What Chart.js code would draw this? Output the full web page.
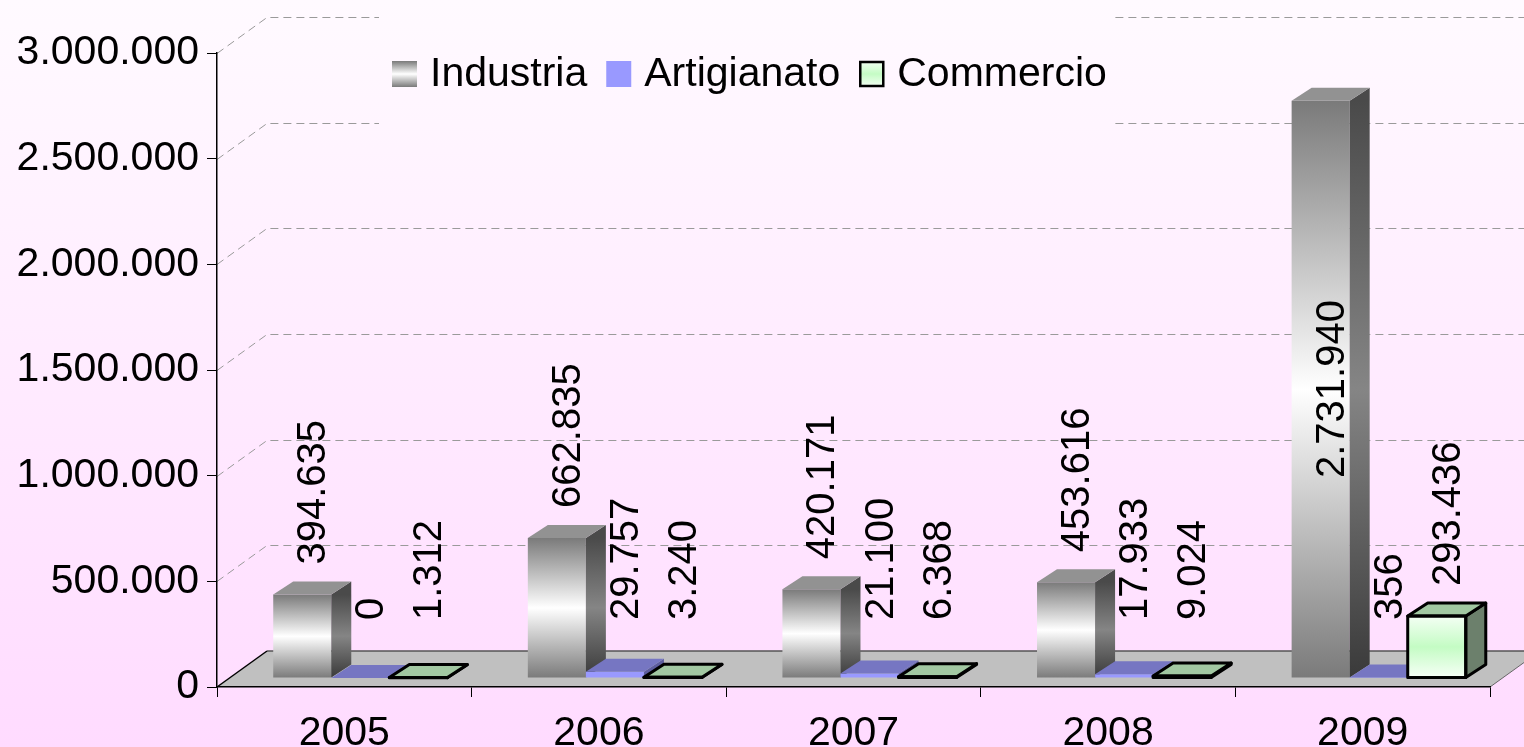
<!DOCTYPE html>
<html><head><meta charset="utf-8">
<script src="https://cdn.jsdelivr.net/npm/chart.js@4.4.1/dist/chart.umd.min.js"></script>
<style>html,body{margin:0;padding:0;overflow:hidden;background:#fff0ff}canvas{display:block}</style>
</head><body>
<canvas id="c" width="1524" height="747"></canvas>
<script>
// ---------------- data ----------------
const categories = ['2005', '2006', '2007', '2008', '2009'];
const seriesNames = ['Industria', 'Artigianato', 'Commercio'];
const industria = [394635, 662835, 420171, 453616, 2731940];
const artigianato = [0, 29757, 21100, 17933, 356];
const commercio = [1312, 3240, 6368, 9024, 293436];
const yTickValues = [0, 500000, 1000000, 1500000, 2000000, 2500000, 3000000];

// ---------------- style ----------------
const FONT = "'Liberation Sans', Arial, Helvetica, sans-serif";
const DEPTH = {x: 20, y: -13};   // bar extrusion
const WALL = {x: 50, y: -36};    // floor / back wall depth
const SHIFT = {x: 16, y: -9};    // bars stand inside the floor

function fmt(v) { return String(v).replace(/\B(?=(\d{3})+(?!\d))/g, '.'); }
function vGrad(ctx, y0, y1, stops) {
  if (!isFinite(y0) || !isFinite(y1) || Math.abs(y1 - y0) < 0.5) return stops[1][1];
  const g = ctx.createLinearGradient(0, y0, 0, y1);
  stops.forEach(s => g.addColorStop(s[0], s[1]));
  return g;
}
const indFront = [[0, '#7a7a7a'], [0.5, '#ffffff'], [1, '#7a7a7a']];
const indSide = [[0, '#4a4a4a'], [0.5, '#858585'], [1, '#3a3a3a']];
const comFront = [[0, '#f4fff4'], [0.5, '#c4fcc4'], [1, '#f7fff7']];

function frontFill(stops) {
  return function (c) {
    const ch = c.chart, ys = ch.scales && ch.scales.y;
    if (!ys || c.raw == null) return stops[1][1];
    const t = ys.getPixelForValue(c.raw), b = ys.getPixelForValue(0);
    return vGrad(ch.ctx, t, b, stops);
  };
}

const faceStyles = [
  {side: (ctx, t, b) => vGrad(ctx, t, b, indSide), top: () => '#929292'},
  {side: () => '#5d5d9e', top: () => '#7676c2'},
  {side: () => '#6c806c', top: () => '#a2c8a2', stroke: '#000', lw: 3}
];

function drawBar3D(ctx, el, st) {
  const p = el.getProps(['x', 'y', 'base', 'width'], true);
  const l = p.x - p.width / 2, r = p.x + p.width / 2;
  const t = Math.min(p.y, p.base), b = Math.max(p.y, p.base);
  el.draw(ctx);
  ctx.lineJoin = 'round';
  ctx.beginPath();
  ctx.moveTo(r, t); ctx.lineTo(r + DEPTH.x, t + DEPTH.y);
  ctx.lineTo(r + DEPTH.x, b + DEPTH.y); ctx.lineTo(r, b); ctx.closePath();
  ctx.fillStyle = st.side(ctx, t, b); ctx.fill();
  if (st.stroke) { ctx.lineWidth = st.lw; ctx.strokeStyle = st.stroke; ctx.stroke(); }
  ctx.beginPath();
  ctx.moveTo(l, t); ctx.lineTo(r, t); ctx.lineTo(r + DEPTH.x, t + DEPTH.y);
  ctx.lineTo(l + DEPTH.x, t + DEPTH.y); ctx.closePath();
  ctx.fillStyle = st.top(ctx, t, b); ctx.fill();
  if (st.stroke) {
    ctx.lineWidth = st.lw; ctx.strokeStyle = st.stroke; ctx.stroke();
    ctx.strokeRect(l, t, r - l, b - t);
  }
}

function bgGrad(ctx, h) { return vGrad(ctx, 0, h, [[0, '#fffaff'], [0.5, '#ffebff'], [1, '#ffdbff']]); }

const scene3d = {
  id: 'scene3d',
  beforeDraw(chart) {
    const ctx = chart.ctx, W = chart.width, H = chart.height;
    const ca = chart.chartArea, ys = chart.scales.y;
    ctx.save();
    ctx.fillStyle = bgGrad(ctx, H);
    ctx.fillRect(0, 0, W, H);
    ctx.setLineDash([8, 5]);
    ctx.strokeStyle = '#9a9a9a'; ctx.lineWidth = 1;
    ys.ticks.forEach(tk => {
      if (tk.value === 0) return;
      const y = Math.round(ys.getPixelForValue(tk.value)) + 0.5;
      ctx.beginPath();
      ctx.moveTo(ca.left, y); ctx.lineTo(ca.left + WALL.x, y + WALL.y); ctx.lineTo(W, y + WALL.y);
      ctx.stroke();
    });
    ctx.setLineDash([]);
    const B = ys.getPixelForValue(0), L = ca.left, R = ca.right;
    ctx.beginPath();
    ctx.moveTo(L, B); ctx.lineTo(R, B); ctx.lineTo(R + WALL.x, B + WALL.y); ctx.lineTo(L + WALL.x, B + WALL.y); ctx.closePath();
    ctx.fillStyle = '#c0c0c0'; ctx.fill();
    ctx.lineWidth = 1.5; ctx.strokeStyle = '#555';
    ctx.beginPath(); ctx.moveTo(L + WALL.x, B + WALL.y); ctx.lineTo(W + 60, B + WALL.y); ctx.stroke();
    ctx.strokeStyle = '#000';
    ctx.beginPath(); ctx.moveTo(L, B); ctx.lineTo(L + WALL.x, B + WALL.y); ctx.stroke();
    ctx.strokeStyle = '#666'; ctx.lineWidth = 1;
    ctx.beginPath(); ctx.moveTo(R, B); ctx.lineTo(R + WALL.x, B + WALL.y); ctx.stroke();
    // legend
    ctx.fillStyle = bgGrad(ctx, H);
    ctx.fillRect(379, 4, 736, 126);
    ctx.font = '41px ' + FONT; ctx.textBaseline = 'middle'; ctx.textAlign = 'left';
    let x = 392; const ym = 74, bw = 25, bh = 26;
    seriesNames.forEach((name, i) => {
      const y0 = ym - bh / 2;
      if (i === 0) ctx.fillStyle = vGrad(ctx, y0, y0 + bh, indFront);
      else if (i === 1) ctx.fillStyle = '#9999ff';
      else ctx.fillStyle = vGrad(ctx, y0, y0 + bh, comFront);
      ctx.fillRect(x, y0, bw, bh);
      if (i === 2) { ctx.lineWidth = 2.5; ctx.strokeStyle = '#000'; ctx.strokeRect(x + 1, y0 + 1, bw - 2, bh - 2); }
      x += bw + 13;
      ctx.fillStyle = '#000';
      ctx.fillText(name, x, ym + 1);
      x += ctx.measureText(name).width + 19;
    });
    ctx.restore();
  },
  beforeDatasetDraw() { return false; },
  afterDatasetsDraw(chart) {
    const ctx = chart.ctx;
    const metas = chart.data.datasets.map((d, i) => chart.getDatasetMeta(i));
    ctx.save();
    ctx.translate(SHIFT.x, SHIFT.y);
    categories.forEach((c, i) => {
      metas.forEach((m, d) => drawBar3D(ctx, m.data[i], faceStyles[d]));
    });
    ctx.restore();
    ctx.save();
    ctx.font = '40px ' + FONT; ctx.fillStyle = '#000';
    ctx.textBaseline = 'middle';
    metas.forEach((m, d) => {
      m.data.forEach((el, i) => {
        const v = chart.data.datasets[d].data[i];
        const txt = fmt(v);
        const len = ctx.measureText(txt).width;
        const p = el.getProps(['x', 'y', 'base'], true);
        const top = Math.min(p.y, p.base) + SHIFT.y;
        const bot = Math.max(p.y, p.base) + SHIFT.y;
        const cx = p.x + SHIFT.x + 12;
        let start = Math.min(top - 30, 620);
        if (start - len < 5) start = (top + bot) / 2 + len / 2;
        ctx.save();
        ctx.translate(cx, start);
        ctx.rotate(-Math.PI / 2);
        ctx.textAlign = 'left';
        ctx.fillText(txt, 0, 0);
        ctx.restore();
      });
    });
    ctx.restore();
  }
};

new Chart(document.getElementById('c'), {
  type: 'bar',
  data: {
    labels: categories,
    datasets: [
      {label: seriesNames[0], data: industria, backgroundColor: frontFill(indFront), borderWidth: 0},
      {label: seriesNames[1], data: artigianato, backgroundColor: '#9999ff', borderWidth: 0},
      {label: seriesNames[2], data: commercio, backgroundColor: frontFill(comFront), borderColor: '#000', borderWidth: 0}
    ]
  },
  options: {
    responsive: false,
    animation: false,
    events: [],
    categoryPercentage: 0.684,
    barPercentage: 1,
    layout: {padding: {top: 53, right: 34, left: 0, bottom: 0}},
    plugins: {legend: {display: false}, tooltip: {enabled: false}},
    scales: {
      x: {
        grid: {offset: true, drawOnChartArea: false, drawTicks: true, tickLength: 10, color: '#000', lineWidth: 1},
        border: {display: true, color: '#000', width: 1.5},
        ticks: {font: {family: FONT, size: 41}, color: '#000', padding: 12, maxRotation: 0, autoSkip: false},
        afterFit(s) { s.height = 60; }
      },
      y: {
        min: yTickValues[0], max: yTickValues[yTickValues.length - 1],
        afterBuildTicks(s) { s.ticks = yTickValues.map(v => ({value: v})); },
        grid: {drawOnChartArea: false, drawTicks: true, tickLength: 10, color: '#000', lineWidth: 1},
        border: {display: true, color: '#000', width: 1.5},
        ticks: {font: {family: FONT, size: 41}, color: '#000', padding: 8, callback: v => fmt(v)},
        afterFit(s) { s.width = 217; }
      }
    }
  },
  plugins: [scene3d]
});
</script>
</body></html>
